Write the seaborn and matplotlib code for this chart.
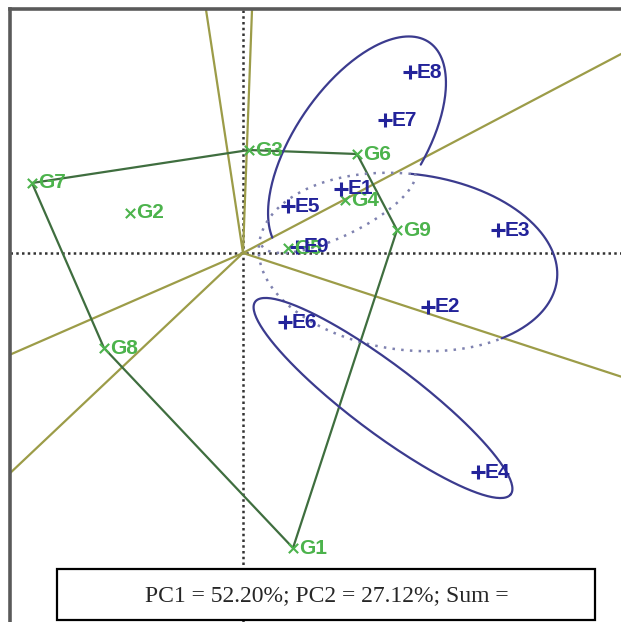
import numpy as np
import pandas as pd
import matplotlib.pyplot as plt
import seaborn as sns

# Genotype scores (PC1, PC2)
genotypes = ["G1", "G2", "G3", "G4", "G5", "G6", "G7", "G8", "G9"]
g_pc1 = [0.50, -1.13, 0.06, 1.02, 0.45, 1.14, -2.11, -1.39, 1.54]
g_pc2 = [-2.95, 0.40, 1.03, 0.53, 0.05, 0.99, 0.70, -0.95, 0.23]

# Environment scores (PC1, PC2)
environments = ["E1", "E2", "E3", "E4", "E5", "E6", "E7", "E8", "E9"]
e_pc1 = [0.98, 1.85, 2.55, 2.35, 0.45, 0.42, 1.42, 1.67, 0.54]
e_pc2 = [0.64, -0.54, 0.23, -2.19, 0.47, -0.69, 1.33, 1.81, 0.06]

# Vertex genotypes of the polygon, in drawing order
hull = ["G7", "G3", "G6", "G9", "G1", "G8"]

# Mega-environment ellipses: centre, semi-axes, angle, arc start/end (deg), style
ell_cx = [1.14, 1.65, 1.65, 0.95, 1.40]
ell_cy = [1.05, -0.09, -0.09, 0.45, -1.45]
ell_a = [1.28, 1.50, 1.50, 0.85, 1.60]
ell_b = [0.63, 0.88, 0.88, 0.28, 0.34]
ell_ang = [55.7, -7, -7, 26, -37]
ell_t1 = [-80, -47, 93, 180, 0]
ell_t2 = [162, 93, 313, 360, 360]
ell_solid = [True, True, False, False, True]

subtitle = "PC1 = 52.20%; PC2 = 27.12%; Sum ="

gdf = pd.DataFrame({"name": genotypes, "PC1": g_pc1, "PC2": g_pc2})
edf = pd.DataFrame({"name": environments, "PC1": e_pc1, "PC2": e_pc2})

sns.set_style("white")
plt.rcParams['font.family'] = ['Liberation Sans', 'DejaVu Sans']

fig = plt.figure(figsize=(6.21, 6.22), dpi=100)
ax = fig.add_axes([10 / 621, 0, 611 / 621, 1 - 9 / 622])

# sector lines: perpendicular from origin to each polygon side
pts = gdf.set_index("name").loc[hull, ["PC1", "PC2"]].values
for i in range(len(pts)):
    p, q = pts[i], pts[(i + 1) % len(pts)]
    d = q - p
    n = np.array([-d[1], d[0]])
    if np.dot(n, p) < 0:
        n = -n
    n = n / np.linalg.norm(n) * 10
    ax.plot([0, n[0]], [0, n[1]], color="#9c9c48", lw=1.6, zorder=2)

# polygon
closed = np.vstack([pts, pts[:1]])
ax.plot(closed[:, 0], closed[:, 1], color="#3f6e3f", lw=1.6, zorder=3)

# ellipses
for i in range(len(ell_cx)):
    t = np.deg2rad(np.linspace(ell_t1[i], ell_t2[i], 200))
    ang = np.deg2rad(ell_ang[i])
    u = ell_a[i] * np.cos(t)
    v = ell_b[i] * np.sin(t)
    x = ell_cx[i] + u * np.cos(ang) - v * np.sin(ang)
    y = ell_cy[i] + u * np.sin(ang) + v * np.cos(ang)
    if ell_solid[i]:
        ax.plot(x, y, color="#3b3b8e", lw=1.6, zorder=4)
    else:
        ax.plot(x, y, color="#7f82b0", lw=1.8, ls=(0, (1, 2.5)), zorder=4)

# axes through origin
ax.axhline(0, color="#333333", lw=1.8, ls=(0, (1, 1.3)), zorder=1)
ax.axvline(0, color="#333333", lw=1.8, ls=(0, (1, 1.3)), zorder=1)

# points
sns.scatterplot(data=gdf, x="PC1", y="PC2", marker="x", color="#4cb34c",
                s=45, linewidth=1.5, ax=ax, zorder=5)
sns.scatterplot(data=edf, x="PC1", y="PC2", marker="+", color="#23239a",
                s=90, linewidth=2.2, ax=ax, zorder=6)

for _, r in gdf.iterrows():
    ax.annotate(r["name"], (r["PC1"], r["PC2"]), xytext=(4.5, 0),
                textcoords="offset points", ha="left", va="center",
                fontsize=15, color="#4cb34c", fontweight="bold", zorder=7)
for _, r in edf.iterrows():
    ax.annotate(r["name"], (r["PC1"], r["PC2"]), xytext=(5, 0),
                textcoords="offset points", ha="left", va="center",
                fontsize=15, color="#23239a", fontweight="bold", zorder=8)

ax.set_xlim(-2.33, 3.78)
ax.set_ylim(-3.69, 2.44)
ax.set_xticks([])
ax.set_yticks([])
ax.set_xlabel("")
ax.set_ylabel("")
for side in ["right", "bottom"]:
    ax.spines[side].set_visible(False)
for side in ["left", "top"]:
    ax.spines[side].set_color("#5a5a5a")
    ax.spines[side].set_linewidth(2.6)

# variance box
box = plt.Rectangle((57 / 621, 1 - 620 / 622), 538 / 621, 51 / 622,
                    transform=fig.transFigure, facecolor="white",
                    edgecolor="black", lw=1.6, zorder=20)
fig.add_artist(box)
fig.text(327 / 621, 1 - 596 / 622, subtitle, ha="center", va="center",
         fontsize=17, family="Liberation Serif", zorder=21)

fig.savefig("out.png", dpi=100)
